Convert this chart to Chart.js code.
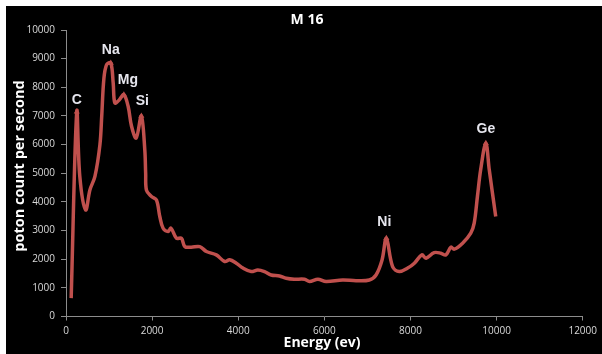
<!DOCTYPE html>
<html>
<head>
<meta charset="utf-8">
<script src="https://cdn.jsdelivr.net/npm/chart.js@4"></script>
<style>
  html, body { margin: 0; padding: 0; background: #fff; }
  #wrap { width: 602px; height: 354px; position: relative; }
</style>
</head>
<body>
<div id="wrap"><canvas id="spectrum"></canvas></div>
<script>
// --- Data ---
const energy = [120, 250, 320, 456, 556, 672, 788, 830, 880, 943, 1040, 1096, 1135, 1230, 1344, 1444, 1522, 1630, 1750, 1830, 1850, 1870, 1985, 2100, 2178, 2255, 2370, 2440, 2565, 2680, 2760, 2910, 3105, 3260, 3490, 3685, 3800, 3955, 4110, 4300, 4455, 4610, 4765, 4960, 5115, 5300, 5540, 5655, 5850, 6040, 6425, 6735, 7045, 7200, 7340, 7440, 7585, 7740, 7935, 8090, 8265, 8360, 8550, 8705, 8820, 8940, 9015, 9210, 9400, 9480, 9555, 9630, 9750, 9830, 9980];
const counts = [640, 7150, 4900, 3720, 4420, 4890, 6000, 7000, 8300, 8790, 8850, 8150, 7450, 7550, 7740, 7330, 6640, 6230, 7000, 5820, 5000, 4400, 4190, 4070, 3490, 3080, 2970, 3080, 2730, 2730, 2440, 2420, 2440, 2270, 2150, 1920, 1980, 1860, 1690, 1570, 1625, 1570, 1450, 1415, 1335, 1300, 1300, 1220, 1300, 1220, 1275, 1250, 1275, 1450, 1975, 2730, 1740, 1570, 1690, 1860, 2150, 2035, 2230, 2210, 2150, 2420, 2350, 2560, 2910, 3260, 4190, 5120, 6050, 5120, 3490];
const peakNames = ['C', 'Na', 'Mg', 'Si', 'Ni', 'Ge'];
const peakEnergy = [250, 1040, 1344, 1750, 7440, 9750];
const xTicks = [0, 2000, 4000, 6000, 8000, 10000, 12000];
const yTicks = [0, 1000, 2000, 3000, 4000, 5000, 6000, 7000, 8000, 9000, 10000];

const points = energy.map((e, i) => ({ x: e, y: counts[i] }));
const peakIdx = peakEnergy.map(e => energy.indexOf(e));
const labelShift = { C: [0, 12], Na: [0, 13], Mg: [4, 15], Si: [1, 15], Ni: [-2, 16], Ge: [0, 14] };

const lineRed = '#c0504d';
const axisGrey = '#8c8c8c';
const tickFont = { family: 'Open Sans', size: 10 };

// --- Background, titles and peak labels ---
const decor = {
    id: 'decor',
    beforeDraw(c) {
        const g = c.ctx;
        g.save();
        g.fillStyle = '#fff';
        g.fillRect(0, 0, c.width, c.height);
        g.fillStyle = '#000';
        g.fillRect(6, 6, c.width - 6, c.height - 6);
        g.restore();
    },
    afterDatasetsDraw(c) {
        const g = c.ctx;
        const meta = c.getDatasetMeta(0);
        g.save();
        g.textAlign = 'center';
        g.textBaseline = 'middle';
        g.fillStyle = '#e6e6ee';
        g.font = 'bold 14px "Liberation Sans", Arial, sans-serif';
        peakIdx.forEach((idx, k) => {
            const pt = meta.data[idx];
            const s = labelShift[peakNames[k]];
            g.fillText(peakNames[k], pt.x + s[0], pt.y - s[1]);
        });

        g.fillStyle = '#ffffff';
        g.font = 'bold 14px "Open Sans", sans-serif';
        g.fillText('M 16', 307, 20);

        g.fillText('Energy (ev)', 322, 343);

        g.translate(20, 166);
        g.rotate(-Math.PI / 2);
        g.font = 'bold 14.5px "Open Sans", sans-serif';
        g.fillText('poton count per second', 0, 0);
        g.restore();
    }
};

new Chart(document.getElementById('spectrum'), {
    type: 'line',
    data: {
        datasets: [{
            data: points,
            borderColor: lineRed,
            backgroundColor: lineRed,
            borderWidth: 3.5,
            tension: 0.35,
            pointStyle: 'triangle',
            pointRadius: ctx => peakIdx.includes(ctx.dataIndex) ? 3.5 : 0,
            pointBorderWidth: 0,
            fill: false,
        }]
    },
    options: {
        responsive: true,
        maintainAspectRatio: false,
        animation: false,
        layout: { padding: { top: 30, right: 18, left: 0, bottom: 0 } },
        plugins: { legend: { display: false }, tooltip: { enabled: false }, title: { display: false } },
        scales: {
            x: {
                type: 'linear',
                min: 0, max: 12000,
                afterBuildTicks: s => { s.ticks = xTicks.map(v => ({ value: v })); },
                afterFit: s => { s.height = 37.5; },
                grid: { display: true, drawOnChartArea: false, drawTicks: true, tickLength: 4, color: axisGrey },
                border: { color: axisGrey, width: 1 },
                ticks: { color: '#d9d9d9', font: tickFont, padding: 5, maxRotation: 0, callback: v => String(v) }
            },
            y: {
                min: 0, max: 10000,
                afterBuildTicks: s => { s.ticks = yTicks.map(v => ({ value: v })); },
                afterFit: s => { s.width = 66; },
                grid: { display: true, drawOnChartArea: false, drawTicks: true, tickLength: 5, color: axisGrey },
                border: { color: axisGrey, width: 1 },
                ticks: { color: '#d9d9d9', font: tickFont, padding: 6, callback: v => String(v) }
            }
        }
    },
    plugins: [decor]
});
</script>
</body>
</html>
